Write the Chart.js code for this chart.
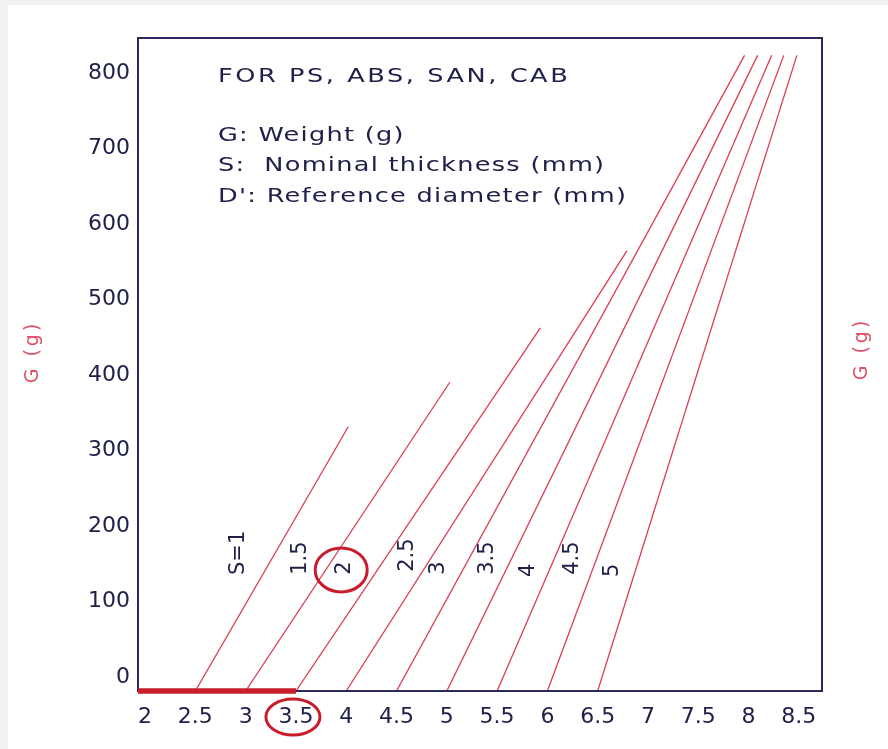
<!DOCTYPE html>
<html>
<head>
<meta charset="utf-8">
<script src="https://cdn.jsdelivr.net/npm/chart.js@4/dist/chart.umd.min.js"></script>
<style>
  html, body { margin: 0; padding: 0; background: #ffffff; }
  canvas { display: block; }
</style>
</head>
<body>
<canvas id="c" width="888" height="749"></canvas>
<script>
// ---- data ----
const xTicks = [2, 2.5, 3, 3.5, 4, 4.5, 5, 5.5, 6, 6.5, 7, 7.5, 8, 8.5];
const yTicks = [0, 100, 200, 300, 400, 500, 600, 700, 800];
const thicknessLabels = ['S=1', '1.5', '2', '2.5', '3', '3.5', '4', '4.5', '5'];
const startD = [2.5, 3, 3.5, 4, 4.5, 5, 5.5, 6, 6.5];
const startG = [0, 0, 0, 0, 0, 0, 0, 0, 0];
const endD = [4.02, 5.03, 5.93, 6.79, 7.96, 8.09, 8.23, 8.35, 8.48];
const endG = [350, 409, 481, 583, 842, 842, 842, 842, 842];
const labelD = [2.92, 3.54, 3.97, 4.60, 4.91, 5.40, 5.80, 6.24, 6.64];
const labelG = [183, 176, 163, 180, 163, 176, 160, 176, 160];
const baseLineD = [1.93, 3.5];
const baseLineG = [0, 0];
const circledLabel = '2';
const circledTick = 3.5;
const noteTitle = 'FOR PS, ABS, SAN, CAB';
const noteLines = ['G: Weight (g)', 'S:  Nominal thickness (mm)', "D': Reference diameter (mm)"];
const axisTitle = 'G (g)';

const NAVY = '#20204a';
const LINE_RED = '#dc3c56';
const MARK_RED = '#c81e2c';
const TITLE_RED = '#e0506a';

const datasets = thicknessLabels.map((s, i) => ({
  label: s,
  data: [{x: startD[i], y: startG[i]}, {x: endD[i], y: endG[i]}],
  showLine: true,
  borderColor: LINE_RED,
  borderWidth: 1.3,
  pointRadius: 0,
  fill: false
}));
datasets.push({
  label: 'base',
  data: baseLineD.map((d, i) => ({x: d, y: baseLineG[i]})),
  showLine: true,
  borderColor: MARK_RED,
  borderWidth: 5,
  pointRadius: 0,
  fill: false,
  clip: false
});

const extras = {
  id: 'extras',
  beforeDraw(chart) {
    const ctx = chart.ctx;
    ctx.save();
    ctx.fillStyle = '#f1f1f1';
    ctx.fillRect(0, 0, chart.width, 5);
    ctx.fillRect(0, 0, 8, chart.height);
    ctx.restore();
  },
  afterDatasetsDraw(chart) {
    const ctx = chart.ctx;
    const xs = chart.scales.x, ys = chart.scales.y;
    const a = chart.chartArea;
    ctx.save();
    // plot frame
    ctx.strokeStyle = '#2a2a5c';
    ctx.lineWidth = 2;
    ctx.strokeRect(a.left, a.top, a.right - a.left, a.bottom - a.top);
    // base red line redrawn on top of frame
    ctx.strokeStyle = MARK_RED;
    ctx.lineWidth = 5;
    ctx.beginPath();
    ctx.moveTo(xs.getPixelForValue(baseLineD[0]), ys.getPixelForValue(baseLineG[0]));
    ctx.lineTo(xs.getPixelForValue(baseLineD[1]), ys.getPixelForValue(baseLineG[1]));
    ctx.stroke();

    // thickness labels (rotated)
    ctx.fillStyle = NAVY;
    ctx.font = '21px "DejaVu Sans"';
    ctx.textAlign = 'center';
    ctx.textBaseline = 'middle';
    thicknessLabels.forEach((s, i) => {
      const px = xs.getPixelForValue(labelD[i]);
      const py = ys.getPixelForValue(labelG[i]);
      ctx.save();
      ctx.translate(px, py);
      ctx.rotate(-Math.PI / 2);
      ctx.fillText(s, 0, 1);
      ctx.restore();
      if (s === circledLabel) {
        ctx.save();
        ctx.strokeStyle = MARK_RED;
        ctx.lineWidth = 3;
        ctx.beginPath();
        ctx.ellipse(px - 2, py + 2, 26, 22, 0, 0, Math.PI * 2);
        ctx.stroke();
        ctx.restore();
      }
    });

    // circled tick
    ctx.strokeStyle = MARK_RED;
    ctx.lineWidth = 3;
    ctx.beginPath();
    ctx.ellipse(xs.getPixelForValue(circledTick) - 3, a.bottom + 26, 27, 18, 0, 0, Math.PI * 2);
    ctx.stroke();

    // note block
    ctx.fillStyle = NAVY;
    ctx.textAlign = 'left';
    ctx.textBaseline = 'alphabetic';
    ctx.font = '20px "DejaVu Sans"';
    const drawStretched = (txt, x, y, spacing) => {
      ctx.save();
      ctx.translate(x, y);
      ctx.scale(1.28, 1);
      ctx.letterSpacing = spacing + 'px';
      ctx.fillText(txt, 0, 0);
      ctx.restore();
    };
    drawStretched(noteTitle, 218, 82, 2);
    const baselines = [141, 171, 202];
    noteLines.forEach((t, i) => drawStretched(t, 218, baselines[i], 1));

    // axis titles
    ctx.fillStyle = TITLE_RED;
    ctx.font = '19px "DejaVu Sans"';
    ctx.textAlign = 'center';
    ctx.textBaseline = 'middle';
    [[33, 352], [a.right + 40, 349]].forEach(([tx, ty]) => {
      ctx.save();
      ctx.translate(tx, ty);
      ctx.rotate(-Math.PI / 2);
      ctx.letterSpacing = '3px';
      ctx.fillText(axisTitle, 0, 0);
      ctx.restore();
    });
    ctx.restore();
  }
};

new Chart(document.getElementById('c'), {
  type: 'scatter',
  data: { datasets },
  options: {
    responsive: false,
    animation: false,
    devicePixelRatio: 1,
    layout: { padding: { left: 0, top: 38, right: 66, bottom: 0 } },
    plugins: { legend: { display: false }, tooltip: { enabled: false } },
    scales: {
      x: {
        type: 'linear',
        min: 1.93,
        max: 8.73,
        afterBuildTicks(scale) { scale.ticks = xTicks.map(v => ({ value: v })); },
        afterFit(scale) { scale.height = 58; },
        grid: { display: false, drawTicks: false },
        border: { display: false },
        ticks: {
          color: NAVY,
          padding: 13,
          maxRotation: 0,
          autoSkip: false,
          font: { family: 'DejaVu Sans', size: 22 },
          callback: v => String(v)
        }
      },
      y: {
        type: 'linear',
        min: 0,
        max: 865,
        afterBuildTicks(scale) { scale.ticks = yTicks.map(v => ({ value: v })); },
        afterFit(scale) { scale.width = 138; },
        grid: { display: false, drawTicks: false },
        border: { display: false },
        ticks: {
          color: NAVY,
          padding: 8,
          labelOffset: -14,
          autoSkip: false,
          font: { family: 'DejaVu Sans', size: 22 },
          callback: v => String(v)
        }
      }
    }
  },
  plugins: [extras]
});
</script>
</body>
</html>
